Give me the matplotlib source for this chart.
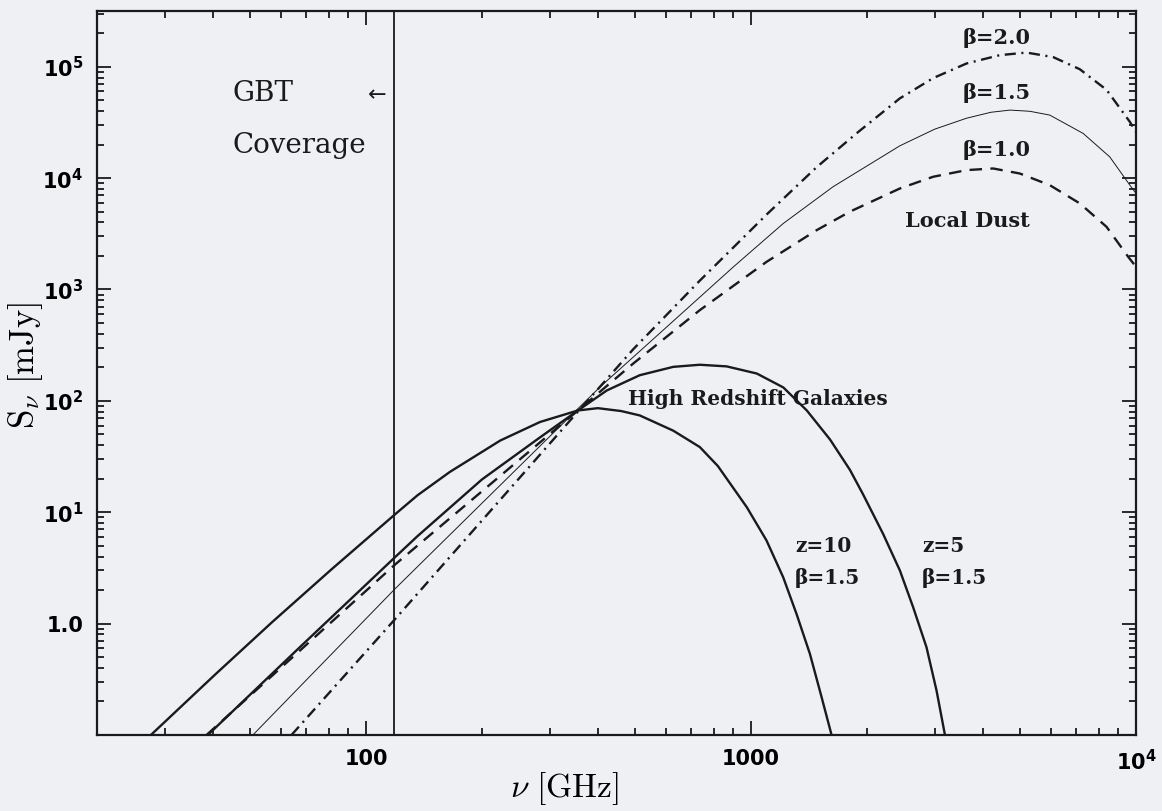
import matplotlib
matplotlib.use('Agg')
import matplotlib.pyplot as plt
from matplotlib.ticker import LogLocator, NullFormatter, FixedLocator, FixedFormatter

# Values (nu in GHz, S in mJy)

# local dust, three emissivity indices
dust_b10_nu = [38.5, 119, 355, 494, 736, 1097, 1479, 1807, 2436, 2972, 3631, 4256, 4989, 5970, 7145, 8387, 9550, 10000]
dust_b10_s = [0.1, 3.4, 82, 216, 652, 1770, 3400, 5000, 8070, 10280, 11800, 12200, 11000, 8650, 5930, 3650, 1960, 1600]

dust_b15_nu = [50.8, 119, 355, 405, 604, 900, 1213, 1633, 2436, 3000, 3631, 4200, 4710, 5300, 5970, 7290, 8550, 9640, 10000]
dust_b15_s = [0.1, 2.06, 85, 133, 461, 1596, 3917, 8360, 19500, 27500, 34500, 39000, 40800, 39800, 36800, 25200, 15500, 8650, 7300]

dust_b20_nu = [64, 119, 355, 494, 736, 1097, 1479, 1900, 2436, 2972, 3631, 4426, 5196, 6095, 7145, 8387, 9640, 10000]
dust_b20_s = [0.1, 1.1, 80, 290, 1200, 4700, 12500, 26000, 52000, 79000, 107000, 127000, 134000, 122000, 95000, 62000, 32000, 26000]

# high redshift galaxies, beta = 1.5
z10_nu = [27.6, 40.5, 56.8, 81.3, 119, 136, 165, 223, 283, 355, 400, 460, 514, 628, 736, 820, 975, 1097, 1212, 1313, 1422, 1525, 1619]
z10_s = [0.1, 0.348, 1.02, 3.07, 9.6, 14.2, 23, 44, 64.6, 82, 86, 81, 74, 54, 38.5, 26, 11.1, 5.58, 2.61, 1.22, 0.536, 0.219, 0.1]

z5_nu = [38.8, 67.3, 119, 136, 200, 283, 355, 422, 514, 628, 736, 864, 1035, 1213, 1396, 1604, 1807, 1954, 2203, 2436, 2636, 2856, 3033, 3190]
z5_s = [0.1, 0.615, 3.96, 6.1, 19.7, 47, 82, 124, 170, 202, 211, 204, 176, 132, 82, 45, 24, 14.5, 6.4, 3.0, 1.41, 0.615, 0.251, 0.1]

gbt_edge = 118  # GHz

x_ticks = [100, 1000, 10000]
x_labels = ['100', '1000', r'$\mathbf{10^{4}}$']
y_ticks = [1, 10, 100, 1e3, 1e4, 1e5]
y_labels = ['1.0', r'$\mathbf{10^{1}}$', r'$\mathbf{10^{2}}$', r'$\mathbf{10^{3}}$',
            r'$\mathbf{10^{4}}$', r'$\mathbf{10^{5}}$']

plt.rcParams['lines.scale_dashes'] = False
bg = '#eef0f4'
ink = '#1a1a1a'

fig = plt.figure(figsize=(11.62, 8.11), dpi=100, facecolor=bg)
ax = fig.add_axes([0.0835, 0.0937, 0.8941, 0.8927], facecolor=bg)
ax.set_xscale('log')
ax.set_yscale('log')
ax.set_xlim(20, 1e4)
ax.set_ylim(0.1, 10 ** 5.5)

# dust curves
ax.plot(dust_b10_nu, dust_b10_s, color=ink, lw=1.7, dashes=(9, 6))
ax.plot(dust_b15_nu, dust_b15_s, color=ink, lw=0.7)
ax.plot(dust_b20_nu, dust_b20_s, color=ink, lw=1.7, dashes=(8, 4, 1.5, 4))

# galaxies
ax.plot(z10_nu, z10_s, color=ink, lw=1.7)
ax.plot(z5_nu, z5_s, color=ink, lw=1.7)

# GBT coverage limit
ax.axvline(gbt_edge, color=ink, lw=1.3)

# ticks
for axis, ticks, labels in [(ax.xaxis, x_ticks, x_labels), (ax.yaxis, y_ticks, y_labels)]:
    axis.set_major_locator(FixedLocator(ticks))
    axis.set_major_formatter(FixedFormatter(labels))
    axis.set_minor_locator(LogLocator(base=10, subs=range(2, 10), numticks=20))
    axis.set_minor_formatter(NullFormatter())
ax.tick_params(which='both', direction='in', top=True, right=True, color=ink, width=1.3)
ax.tick_params(which='major', length=10, labelsize=15, pad=10)
ax.tick_params(which='minor', length=5)
for lab in ax.get_xticklabels() + ax.get_yticklabels():
    lab.set_fontweight('bold')
for sp in ax.spines.values():
    sp.set_linewidth(1.6)
    sp.set_color(ink)

ax.set_xlabel(r'$\nu\ [\mathrm{GHz}]$', fontsize=24, math_fontfamily='cm')
ax.xaxis.set_label_coords(0.45, -0.049)
ax.set_ylabel(r'$\mathrm{S}_{\nu}\ [\mathrm{mJy}]$', fontsize=25, math_fontfamily='cm')
ax.yaxis.set_label_coords(-0.05, 0.51)

# annotations
serif = 'DejaVu Serif'
ax.text(45, 58000, 'GBT', fontsize=20, family=serif, va='center', ha='left', color=ink)
ax.text(45, 19800, 'Coverage', fontsize=20, family=serif, va='center', ha='left', color=ink)
ax.text(107, 56000, '\u2190', fontsize=16, va='center', ha='center', color=ink)

for label, s in [('\u03b2=2.0', 181000), ('\u03b2=1.5', 58100), ('\u03b2=1.0', 17900)]:
    ax.text(4355, s, label, fontsize=15, family=serif, fontweight='bold', ha='center', va='center', color=ink)
ax.text(3650, 4110, 'Local Dust', fontsize=15, family=serif, fontweight='bold', ha='center', va='center', color=ink)
ax.text(479, 105, 'High Redshift Galaxies', fontsize=14.5, family=serif, fontweight='bold', ha='left', va='center', color=ink)
for nu, z in [(1300, 'z=10'), (2780, 'z=5')]:
    ax.text(nu, 5.0, z, fontsize=14.5, family=serif, fontweight='bold', ha='left', va='center', color=ink)
    ax.text(nu, 2.55, '\u03b2=1.5', fontsize=14.5, family=serif, fontweight='bold', ha='left', va='center', color=ink)

fig.savefig('out.png', dpi=100, facecolor=bg)
